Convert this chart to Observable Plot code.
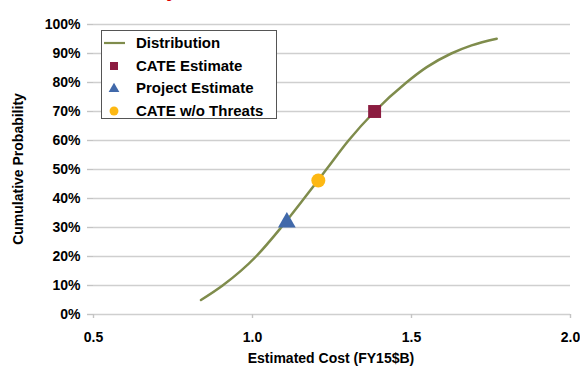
<!DOCTYPE html>
<html>
<head>
<meta charset="utf-8">
<script src="https://cdn.jsdelivr.net/npm/d3@7"></script>
<script src="https://cdn.jsdelivr.net/npm/@observablehq/plot@0.6"></script>
<style>
  body { margin: 0; background: #fff; font-family: "Liberation Sans", Arial, sans-serif; }
  #wrap { position: relative; width: 580px; height: 367px; overflow: hidden; background: #fff; }
  #wrap svg { position: absolute; left: 0; top: 0; }
  .ov { position: absolute; font-weight: bold; color: #000; line-height: 1; white-space: nowrap; }
  #legend { position: absolute; left: 101px; top: 30px; width: 174px; height: 87px;
            border: 1.5px solid #555; background: #fff; }
  .lrow { position: absolute; left: 0; height: 16px; }
  .lrow svg { position: absolute; left: 10px; top: 0; }
  .lrow span { position: absolute; left: 34px; top: 0; font-size: 15px; font-weight: bold; line-height: 16px; white-space: nowrap; }
</style>
</head>
<body>
<div id="wrap"></div>
<script>
// ---- data ----
const curveCost = [0.838, 0.906, 1.011, 1.090, 1.162, 1.232, 1.302, 1.384, 1.484, 1.548, 1.625, 1.689, 1.768];
const curveProb = [0.05, 0.10, 0.20, 0.30, 0.40, 0.50, 0.60, 0.70, 0.80, 0.853, 0.90, 0.928, 0.951];
const pointNames = ["CATE Estimate", "Project Estimate", "CATE w/o Threats"];
const pointCost = [1.384, 1.108, 1.207];
const pointProb = [0.70, 0.318, 0.462];
const seriesNames = ["Distribution", ...pointNames];
const yTicks = [0, 0.1, 0.2, 0.3, 0.4, 0.5, 0.6, 0.7, 0.8, 0.9, 1.0];
const xTicks = [0.5, 1.0, 1.5, 2.0];

// ---- styles ----
const lineColor = "#7f8c4c";
const pointStyle = {
  "CATE Estimate": {symbol: "square", fill: "#8b1c40", r: 7.3},
  "Project Estimate": {symbol: "triangle", fill: "#4169aa", r: 6.6},
  "CATE w/o Threats": {symbol: "circle", fill: "#fdb813", r: 7}
};

const curve = curveCost.map((c, i) => ({cost: c, prob: curveProb[i]}));
const pts = pointNames.map((n, i) => ({name: n, cost: pointCost[i], prob: pointProb[i]}));

const chart = Plot.plot({
  width: 580, height: 367,
  marginLeft: 93, marginRight: 10, marginTop: 24, marginBottom: 53,
  style: {fontFamily: "'Liberation Sans', Arial, sans-serif", fontSize: "14px", fontWeight: "bold", color: "#000", background: "transparent", overflow: "visible"},
  x: {domain: [0.5, 2.0]},
  y: {domain: [0, 1]},
  marks: [
    Plot.gridY(yTicks, {stroke: "#cfcfcf", strokeOpacity: 1, strokeWidth: 1.6}),
    Plot.axisY(yTicks, {tickSize: 6, tickPadding: 7, tickFormat: d3.format(".0%"), stroke: "#c4c4c4", strokeWidth: 1.4, label: null, fill: "#000"}),
    Plot.axisX(xTicks, {tickSize: 4, tickPadding: 14, tickFormat: d => d.toFixed(1), stroke: "#c4c4c4", strokeWidth: 1.4, label: null, fill: "#000"}),
    Plot.line(curve, {x: "cost", y: "prob", curve: "monotone-x", stroke: lineColor, strokeWidth: 2.5}),
    ...pts.map(p => Plot.dot([p], {x: "cost", y: "prob", symbol: pointStyle[p.name].symbol, fill: pointStyle[p.name].fill, r: pointStyle[p.name].r, stroke: "none"}))
  ]
});

const wrap = document.getElementById("wrap");
wrap.appendChild(chart);

// red title fragment cut at the top edge
const red = document.createElement("div");
red.className = "ov";
red.style.cssText = "left:168px;top:-20px;font-size:20px;color:#e00000;font-style:italic;";
red.textContent = "y";
wrap.appendChild(red);

// axis titles
const xt = document.createElement("div");
xt.className = "ov";
xt.style.cssText = "left:231px;width:200px;text-align:center;top:351px;font-size:14px;";
xt.textContent = "Estimated Cost (FY15$B)";
wrap.appendChild(xt);

const yt = document.createElement("div");
yt.className = "ov";
yt.style.cssText = "left:-82px;width:200px;text-align:center;top:162px;font-size:14px;transform:rotate(-90deg);transform-origin:100px 7px;";
yt.textContent = "Cumulative Probability";
wrap.appendChild(yt);

// legend
const legend = document.createElement("div");
legend.id = "legend";
const rowTops = [4, 26.5, 49, 71.5];
seriesNames.forEach((name, i) => {
  const row = document.createElement("div");
  row.className = "lrow";
  row.style.top = rowTops[i] + "px";
  const ns = "http://www.w3.org/2000/svg";
  const s = document.createElementNS(ns, "svg");
  s.setAttribute("width", 24); s.setAttribute("height", 16);
  if (i === 0) {
    const l = document.createElementNS(ns, "line");
    l.setAttribute("x1", 2); l.setAttribute("x2", 23); l.setAttribute("y1", 8); l.setAttribute("y2", 8);
    l.setAttribute("stroke", lineColor); l.setAttribute("stroke-width", 2.2);
    s.appendChild(l);
  } else {
    const st = pointStyle[name];
    const p = document.createElementNS(ns, "path");
    const sym = st.symbol === "square" ? d3.symbolSquare : st.symbol === "triangle" ? d3.symbolTriangle : d3.symbolCircle;
    const size = st.symbol === "square" ? 64 : st.symbol === "triangle" ? 50 : 62;
    p.setAttribute("d", d3.symbol(sym, size)());
    p.setAttribute("transform", st.symbol === "triangle" ? "translate(12,9)" : "translate(12,8)");
    p.setAttribute("fill", st.fill);
    s.appendChild(p);
  }
  row.appendChild(s);
  const t = document.createElement("span");
  t.textContent = name;
  row.appendChild(t);
  legend.appendChild(row);
});
wrap.appendChild(legend);
</script>
</body>
</html>
